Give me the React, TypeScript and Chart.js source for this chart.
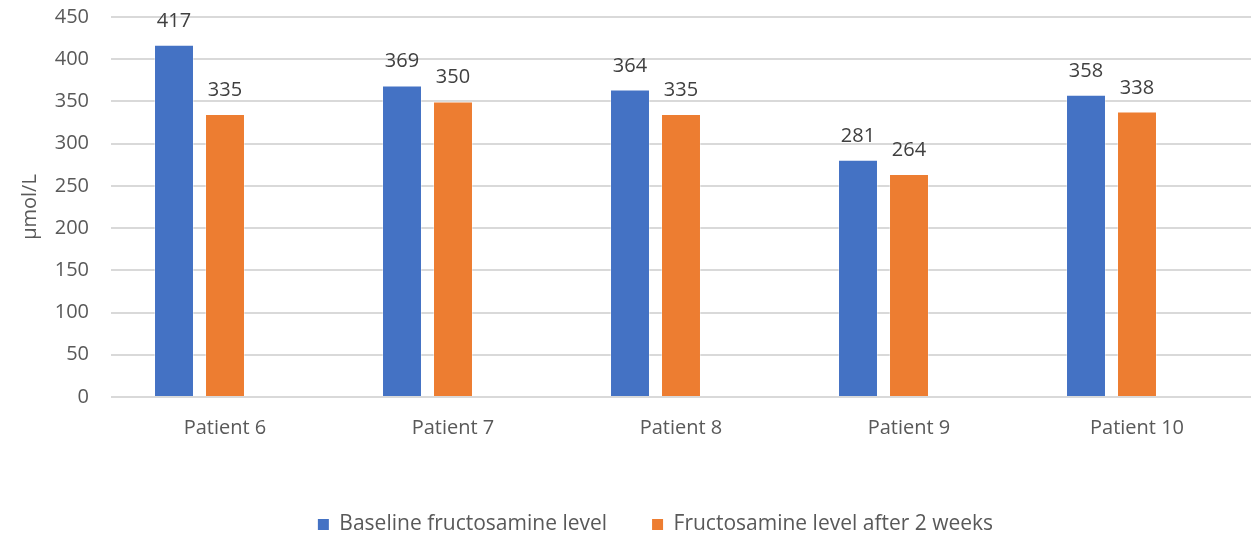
import React, { useEffect, useRef } from "react";
import { Chart, registerables } from "chart.js";

Chart.register(...registerables);

const categories = ["Patient 6", "Patient 7", "Patient 8", "Patient 9", "Patient 10"];
const baseline = [417, 369, 364, 281, 358];
const afterTwoWeeks = [335, 350, 335, 264, 338];
const emptySeries = [null, null, null, null, null];
const seriesNames = ["Baseline fructosamine level", "Fructosamine level after 2 weeks"];
const yTicks = { min: 0, max: 450, step: 50 };
const yTitle = "µmol/L";

const FONT = "'Open Sans', 'Noto Sans', sans-serif";

const dataLabelPlugin = {
  id: "dataLabels",
  afterDatasetsDraw(chart: any) {
    const ctx = chart.ctx;
    ctx.save();
    ctx.font = `20px ${FONT}`;
    ctx.fillStyle = "#404040";
    ctx.textAlign = "center";
    ctx.textBaseline = "alphabetic";
    chart.data.datasets.forEach((ds: any, i: number) => {
      if (ds.hiddenSlot) return;
      const meta = chart.getDatasetMeta(i);
      meta.data.forEach((bar: any, j: number) => {
        const v = ds.data[j];
        if (v == null) return;
        ctx.fillText(String(v), bar.x, bar.y - 18);
      });
    });
    ctx.restore();
  },
};

const legendShiftPlugin = {
  id: "legendShift",
  afterLayout(chart: any) {
    const lg = chart.legend;
    if (lg) {
      lg.left += 30;
      lg.right += 30;
    }
  },
};

export default function App() {
  const ref = useRef<HTMLCanvasElement>(null);
  useEffect(() => {
    document.body.style.margin = "0";
    const chart = new Chart(ref.current!, {
      type: "bar",
      data: {
        labels: categories,
        datasets: [
          {
            label: seriesNames[0],
            data: baseline,
            backgroundColor: "#4472C4",
            borderColor: "rgba(255,255,255,0.35)",
            borderWidth: 1,
            categoryPercentage: 0.671,
            barPercentage: 0.784,
          } as any,
          {
            label: seriesNames[1],
            data: afterTwoWeeks,
            backgroundColor: "#ED7D31",
            borderColor: "rgba(255,255,255,0.35)",
            borderWidth: 1,
            categoryPercentage: 0.671,
            barPercentage: 0.784,
          } as any,
          {
            label: "",
            data: emptySeries,
            backgroundColor: "rgba(0,0,0,0)",
            categoryPercentage: 0.671,
            barPercentage: 0.784,
            hiddenSlot: true,
          } as any,
        ],
      },
      options: {
        animation: false,
        responsive: false,
        maintainAspectRatio: false,
        layout: { padding: { top: 17, right: 0, bottom: -8, left: 0 } },
        plugins: {
          legend: {
            position: "bottom",
            labels: {
              filter: (item: any) => item.text !== "",
              boxWidth: 11,
              boxHeight: 11,
              color: "#595959",
              font: { family: FONT, size: 21 },
              padding: 45,
              generateLabels: (chart: any) =>
                Chart.defaults.plugins.legend.labels.generateLabels(chart).map((it: any) => ({
                  ...it,
                  strokeStyle: "rgba(0,0,0,0)",
                  lineWidth: 0,
                })),
            },
          },
          tooltip: { enabled: false },
        },
        scales: {
          x: {
            grid: { display: false },
            border: { display: false },
            ticks: { color: "#595959", font: { family: FONT, size: 20 }, padding: 11 },
            afterFit: (s: any) => {
              s.height = 72;
              s.paddingLeft = 0;
              s.paddingRight = 0;
            },
          },
          y: {
            min: yTicks.min,
            max: yTicks.max,
            ticks: {
              stepSize: yTicks.step,
              color: "#595959",
              font: { family: FONT, size: 20 },
              padding: 22,
            },
            grid: { color: "#D9D9D9", lineWidth: 2, drawTicks: false },
            border: { display: false },
            title: {
              display: true,
              text: yTitle,
              color: "#595959",
              font: { family: FONT, size: 20 },
              padding: { top: 18, bottom: 0 },
            },
            afterFit: (s: any) => {
              s.width = 111;
              s.paddingTop = 0;
              s.paddingBottom = 0;
            },
          },
        },
      },
      plugins: [dataLabelPlugin, legendShiftPlugin],
    });
    return () => chart.destroy();
  }, []);
  return (
    <div style={{ position: "fixed", left: 0, top: 0, width: 1251, height: 537, background: "#fff" }}>
      <canvas ref={ref} width={1251} height={537} style={{ width: 1251, height: 537 }} />
    </div>
  );
}
